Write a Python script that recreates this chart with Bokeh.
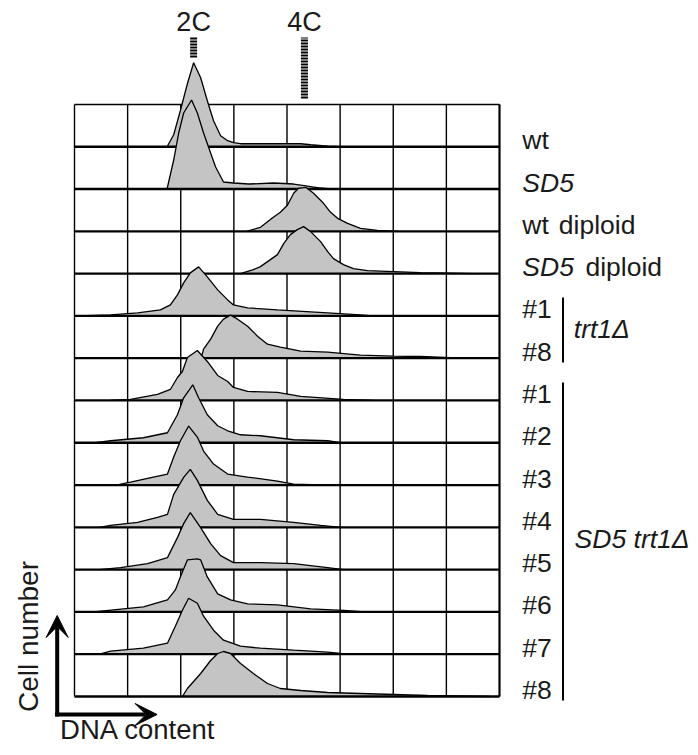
import math
from bokeh.plotting import figure
from bokeh.models import Range1d, Arrow, VeeHead
from bokeh.core.properties import value
from bokeh.embed import file_html
from bokeh.resources import INLINE

# ---- data: DNA content (channel) vs cell number ----
dna_wt = [223, 239, 255, 272, 287, 304, 320, 335, 352, 369, 383, 400, 450, 500, 545, 569, 610, 640]
cells_wt = [0, 12, 36, 63, 84, 69, 46, 26, 11, 6, 4, 3, 3, 3, 3, 2, 0.5, 0]

dna_sd5 = [223, 239, 251, 263, 282, 296, 311, 328, 340, 359, 383, 420, 480, 528, 545, 593, 617]
cells_sd5 = [0, 29, 56, 76, 89, 76, 56, 36, 22, 7, 6, 5, 6, 5, 4, 1, 0]

dna_wt_dip = [415, 448, 479, 496, 513, 528, 540, 557, 576, 600, 617, 634, 658, 689, 730, 780]
cells_wt_dip = [0, 4, 14, 19, 26, 38, 43, 44, 38, 28, 19, 13, 8, 3, 1, 0]

dna_sd5_dip = [400, 431, 448, 472, 489, 504, 520, 537, 552, 569, 593, 610, 624, 648, 672, 706, 769, 834, 906, 960]
cells_sd5_dip = [0, 4, 7, 14, 19, 30, 39, 44, 47, 42, 32, 22, 15, 9, 5, 3, 2, 1, 0.5, 0]

dna_trt_1 = [7, 87, 152, 207, 231, 248, 263, 279, 299, 320, 345, 369, 383, 417, 489, 569, 610, 689, 718]
cells_trt_1 = [0, 1, 3, 6, 11, 21, 33, 43, 49, 39, 26, 16, 11, 8, 6, 4, 3, 1, 0]

dna_trt_8 = [305, 311, 328, 345, 359, 376, 393, 417, 441, 465, 496, 545, 610, 689, 769, 834, 906, 1000]
cells_trt_8 = [0, 9, 19, 32, 39, 43, 39, 32, 22, 14, 11, 7, 6, 3, 2, 1.7, 0.5, 0]

dna_sdt_1 = [87, 135, 200, 231, 248, 260, 272, 296, 320, 345, 369, 383, 417, 489, 545, 648, 718]
cells_sdt_1 = [0, 1, 6, 11, 23, 29, 43, 50, 39, 25, 19, 13, 9, 8, 4, 1, 0]

dna_sdt_2 = [50, 87, 166, 224, 248, 263, 285, 299, 320, 345, 369, 400, 448, 528, 610, 641]
cells_sdt_2 = [0, 2, 5, 10, 28, 45, 58, 45, 28, 17, 12, 8, 7, 3, 2, 0]

dna_sdt_3 = [100, 135, 190, 224, 239, 255, 275, 296, 311, 335, 369, 417, 489, 528, 617]
cells_sdt_3 = [0, 3, 8, 11, 28, 44, 59, 48, 34, 21, 11, 8, 4, 1, 0]

dna_sdt_4 = [60, 87, 152, 200, 224, 239, 263, 279, 296, 320, 345, 383, 448, 528, 593, 641]
cells_sdt_4 = [0, 2, 5, 10, 13, 33, 50, 58, 47, 27, 13, 8, 8, 5, 2, 0]

dna_sdt_5 = [60, 111, 176, 224, 248, 263, 279, 304, 328, 352, 383, 448, 528, 610, 648]
cells_sdt_5 = [0, 2, 6, 12, 32, 46, 57, 42, 26, 14, 7, 7, 6, 2, 0]

dna_sdt_6 = [46, 166, 224, 243, 255, 272, 296, 304, 320, 345, 376, 417, 489, 569, 648, 700]
cells_sdt_6 = [0, 5, 12, 22, 35, 52, 53, 52, 35, 18, 12, 8, 7, 3, 1.5, 0]

dna_sdt_7 = [60, 87, 166, 224, 243, 260, 275, 296, 311, 335, 359, 400, 448, 528, 610, 658]
cells_sdt_7 = [0, 3, 6, 11, 28, 44, 56, 51, 38, 24, 14, 8, 6, 4, 2, 0]

dna_sdt_8 = [260, 272, 304, 328, 345, 359, 376, 400, 431, 465, 496, 545, 610, 689, 769, 851, 1000]
cells_sdt_8 = [0, 8, 23, 36, 43, 45, 43, 33, 23, 13, 8, 6, 4, 3, 2, 1, 0]

row_labels = ["wt", "SD5", "wt", "SD5", "#1", "#8", "#1", "#2", "#3", "#4", "#5", "#6", "#7", "#8"]
row_italic = [False, True, False, True, False, False, False, False, False, False, False, False, False, False]
row_suffix = ["", "", "diploid", "diploid", "", "", "", "", "", "", "", "", "", ""]

grid_channels = [0, 128, 256, 384, 512, 640, 768, 896, 1024]
ploidy_labels = ["2C", "4C"]
ploidy_channels = [287, 554]

samples = [
    (dna_wt, cells_wt), (dna_sd5, cells_sd5), (dna_wt_dip, cells_wt_dip), (dna_sd5_dip, cells_sd5_dip),
    (dna_trt_1, cells_trt_1), (dna_trt_8, cells_trt_8),
    (dna_sdt_1, cells_sdt_1), (dna_sdt_2, cells_sdt_2), (dna_sdt_3, cells_sdt_3), (dna_sdt_4, cells_sdt_4),
    (dna_sdt_5, cells_sdt_5), (dna_sdt_6, cells_sdt_6), (dna_sdt_7, cells_sdt_7), (dna_sdt_8, cells_sdt_8),
]

ROW = 42.29
N = len(samples)
TOP = N * ROW
XMAX = grid_channels[-1]
FONT = value("Liberation Sans")
FILL = "#c4c4c4"
TXT = "#1a1a1a"
LBL = value("26.5px")
DY = 9          # baseline correction (px == data units on y)
DX = 21.7       # same correction along x for rotated text (channels)

p = figure(width=690, height=747, x_range=Range1d(-178.3, 1484.2), y_range=Range1d(-51, 696),
           toolbar_location=None, output_backend="svg", x_axis_location=None, y_axis_location=None,
           min_border=0, outline_line_color=None)
p.grid.visible = False
p.background_fill_color = "white"

# grid
p.segment(x0=grid_channels, y0=[0] * len(grid_channels), x1=grid_channels, y1=[TOP] * len(grid_channels),
          line_color="black", line_width=1.4)
p.segment(x0=[0], y0=[TOP], x1=[XMAX], y1=[TOP], line_color="black", line_width=1.4)
p.segment(x0=[XMAX], y0=[0], x1=[XMAX], y1=[TOP], line_color="black", line_width=2)

suffix_x = {"wt": 1167, "SD5": 1231}

# histograms, top to bottom
for i, (dna, cells) in enumerate(samples):
    off = (N - 1 - i) * ROW
    ys = [off + c for c in cells]
    p.patch(x=dna, y=ys, fill_color=FILL, line_color=None)
    p.line(x=dna, y=ys, line_color="black", line_width=1.3)
    p.line(x=[0, XMAX], y=[off, off], line_color="black", line_width=2.3)
    # row label
    p.text(x=[1079], y=[off - 2.5 + DY], text=[row_labels[i]], text_font=FONT, text_font_size=LBL,
           text_font_style="italic" if row_italic[i] else "normal", text_baseline="alphabetic",
           text_align="left", text_color=TXT)
    if row_suffix[i]:
        p.text(x=[suffix_x[row_labels[i]]], y=[off - 2.5 + DY], text=[row_suffix[i]], text_font=FONT,
               text_font_size=LBL, text_baseline="alphabetic", text_align="left", text_color=TXT)

# 2C / 4C markers
p.segment(x0=[ploidy_channels[0]], y0=[639], x1=[ploidy_channels[0]], y1=[659],
          line_color="black", line_width=7, line_dash="2 1")
p.segment(x0=[ploidy_channels[1]], y0=[598], x1=[ploidy_channels[1]], y1=[659],
          line_color="black", line_width=7, line_dash="2 1")
p.text(x=ploidy_channels, y=[666 + DY, 666 + DY], text=ploidy_labels, text_font=FONT,
       text_font_size=value("27px"), text_align="center", text_baseline="alphabetic", text_color=TXT)

# brackets
p.segment(x0=[1177, 1177], y0=[334, -4], x1=[1177, 1177], y1=[399, 314], line_color="black", line_width=2)
p.text(x=[1203], y=[359 + DY], text=["trt1\u0394"], text_font=FONT, text_font_size=LBL,
       text_font_style="italic", text_baseline="alphabetic", text_color=TXT)
p.text(x=[1205], y=[149 + DY], text=["SD5 trt1\u0394"], text_font=FONT, text_font_size=LBL,
       text_font_style="italic", text_baseline="alphabetic", text_color=TXT)

# axis arrows
p.add_layout(Arrow(end=VeeHead(size=22, fill_color="black", line_color="black"),
                   x_start=-41.7, y_start=-20, x_end=-41.7, y_end=81, line_width=4, line_color="black"))
p.add_layout(Arrow(end=VeeHead(size=22, fill_color="black", line_color="black"),
                   x_start=-46.5, y_start=-18, x_end=199, y_end=-18, line_width=4, line_color="black"))
p.text(x=[-89 - DX], y=[60], text=["Cell number"], angle=math.pi / 2, text_font=FONT,
       text_font_size=value("28px"), text_align="center", text_baseline="alphabetic", text_color=TXT)
p.text(x=[153], y=[-33], text=["DNA content"], text_font=FONT, text_font_size=value("27.5px"),
       text_align="center", text_baseline="alphabetic", text_color=TXT)

open("out.html", "w").write(file_html(p, INLINE))
